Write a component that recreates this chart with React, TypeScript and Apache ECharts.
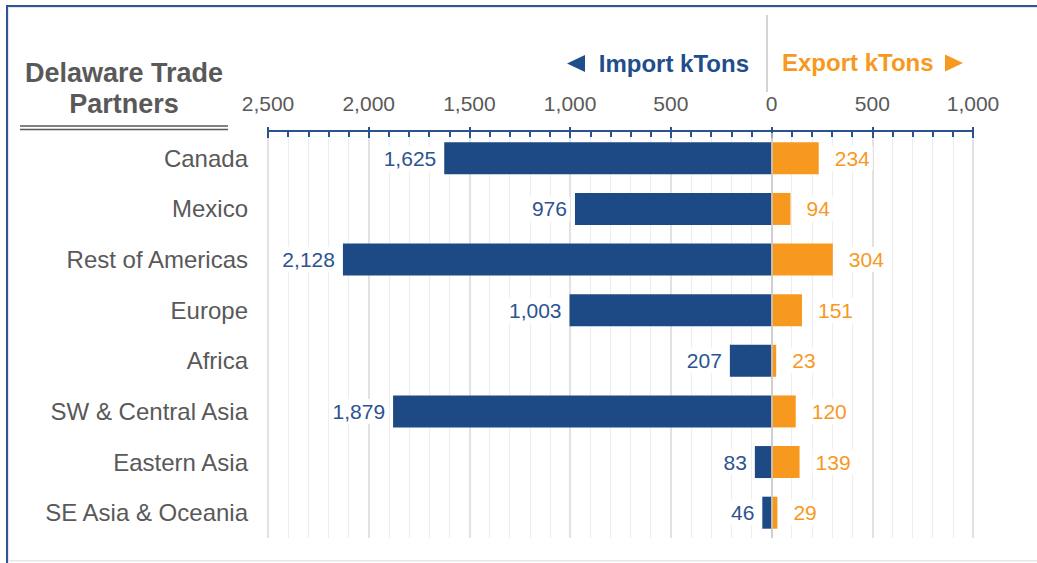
import React, { useEffect, useRef } from "react";
import * as echarts from "echarts";

const categories = [
  "Canada",
  "Mexico",
  "Rest of Americas",
  "Europe",
  "Africa",
  "SW & Central Asia",
  "Eastern Asia",
  "SE Asia & Oceania",
];
const importKTons = [1625, 976, 2128, 1003, 207, 1879, 83, 46];
const exportKTons = [234, 94, 304, 151, 23, 120, 139, 29];

const BLUE = "#1d4984";
const ORANGE = "#f7991e";
const GRAY_TEXT = "#595959";
const SANS = "'Liberation Sans', Arial, sans-serif";

const fmt = (v: number) => Math.abs(v).toLocaleString("en-US");

export default function App() {
  const ref = useRef<HTMLDivElement>(null);
  useEffect(() => {
    if (!ref.current) return;
    const chart = echarts.init(ref.current, null, { renderer: "svg" });
    const axisCommon = {
      type: "value" as const,
      position: "top" as const,
      min: -2500,
      max: 1000,
      interval: 500,
      offset: 2,
    };
    chart.setOption({
      animation: false,
      backgroundColor: "#ffffff",
      grid: { left: 268, right: 64, top: 133, bottom: 25, containLabel: false },
      xAxis: [
        {
          ...axisCommon,
          axisLine: { show: true, lineStyle: { color: "#2a5290", width: 2 } },
          axisTick: { show: true, inside: true, length: 7, lineStyle: { color: "#2a5290", width: 2 } },
          minorTick: { show: true, splitNumber: 5, length: 6, lineStyle: { color: "#2a5290", width: 2 } },
          axisLabel: {
            formatter: (v: number) => fmt(v),
            color: GRAY_TEXT,
            fontSize: 21,
            fontFamily: SANS,
            margin: 17,
          },
          splitLine: { show: true, lineStyle: { color: "#d9d9d9", width: 1.5 } },
          minorSplitLine: { show: true, lineStyle: { color: "#eeeeee", width: 1.2 } },
        },
        {
          ...axisCommon,
          axisLine: { show: false },
          axisTick: { show: true, inside: false, length: 4, lineStyle: { color: "#2a5290", width: 2 } },
          axisLabel: { show: false },
          splitLine: { show: false },
        },
      ],
      yAxis: {
        type: "category",
        data: categories,
        inverse: true,
        axisLine: { show: false },
        axisTick: { show: false },
        axisLabel: {
          color: GRAY_TEXT,
          fontSize: 24,
          fontFamily: SANS,
          margin: 20,
        },
        splitLine: { show: false },
      },
      series: [
        {
          name: "Import kTons",
          type: "bar",
          stack: "trade",
          barWidth: 32,
          data: importKTons.map((v) => -v),
          itemStyle: { color: BLUE },
          label: {
            show: true,
            position: "left",
            distance: 5,
            formatter: (p: any) => fmt(p.value),
            color: "#2d5390",
            fontSize: 21,
            fontFamily: SANS,
            backgroundColor: "#ffffff",
            padding: [2, 3],
          },
        },
        {
          name: "Export kTons",
          type: "bar",
          stack: "trade",
          barWidth: 32,
          data: exportKTons,
          itemStyle: { color: ORANGE },
          label: {
            show: true,
            position: "right",
            distance: 13,
            formatter: (p: any) => fmt(p.value),
            color: ORANGE,
            fontSize: 21,
            fontFamily: SANS,
            backgroundColor: "#ffffff",
            padding: [2, 3],
          },
          markLine: {
            silent: true,
            symbol: "none",
            label: { show: false },
            lineStyle: { color: "#c9c9c9", width: 1.5, type: "solid" },
            data: [{ xAxis: 0 }],
            z: 10,
          },
        },
      ],
      graphic: [
        { type: "rect", shape: { x: 7, y: 5, width: 1030, height: 2 }, style: { fill: "#2f5597" } },
        { type: "rect", shape: { x: 6, y: 5, width: 2, height: 558 }, style: { fill: "#2f5597" } },
        { type: "rect", shape: { x: 8, y: 7, width: 1029, height: 1 }, style: { fill: "#e6e6e6" } },
        { type: "rect", shape: { x: 8, y: 7, width: 1, height: 556 }, style: { fill: "#e6e6e6" } },
        { type: "rect", shape: { x: 8, y: 560, width: 1029, height: 1.5 }, style: { fill: "#e8e8e8" } },
        {
          type: "text",
          x: 124,
          y: 73,
          style: {
            text: "Delaware Trade",
            fill: GRAY_TEXT,
            font: `bold 27px ${SANS}`,
            textAlign: "center",
            textVerticalAlign: "middle",
          },
        },
        {
          type: "text",
          x: 124,
          y: 104,
          style: {
            text: "Partners",
            fill: GRAY_TEXT,
            font: `bold 27px ${SANS}`,
            textAlign: "center",
            textVerticalAlign: "middle",
          },
        },
        { type: "line", shape: { x1: 20, y1: 126, x2: 228, y2: 126 }, style: { stroke: GRAY_TEXT, lineWidth: 1.5 } },
        { type: "line", shape: { x1: 20, y1: 129.5, x2: 228, y2: 129.5 }, style: { stroke: GRAY_TEXT, lineWidth: 1.5 } },
        { type: "line", shape: { x1: 767, y1: 15, x2: 767, y2: 92 }, style: { stroke: "#c6c6c6", lineWidth: 1.5 } },
        {
          type: "polygon",
          shape: { points: [[567, 63.5], [585, 55], [585, 72]] },
          style: { fill: "#1f4e8c" },
        },
        {
          type: "text",
          x: 749,
          y: 63,
          style: {
            text: "Import kTons",
            fill: "#1f4e8c",
            font: `bold 24px ${SANS}`,
            textAlign: "right",
            textVerticalAlign: "middle",
          },
        },
        {
          type: "text",
          x: 782,
          y: 62,
          style: {
            text: "Export kTons",
            fill: ORANGE,
            font: `bold 24px ${SANS}`,
            textAlign: "left",
            textVerticalAlign: "middle",
          },
        },
        {
          type: "polygon",
          shape: { points: [[945, 54.5], [963, 63], [945, 71.5]] },
          style: { fill: ORANGE },
        },
      ],
    });
    return () => chart.dispose();
  }, []);
  return (
    <div
      ref={ref}
      style={{ position: "fixed", left: 0, top: 0, width: 1037, height: 563, background: "#fff" }}
    />
  );
}
